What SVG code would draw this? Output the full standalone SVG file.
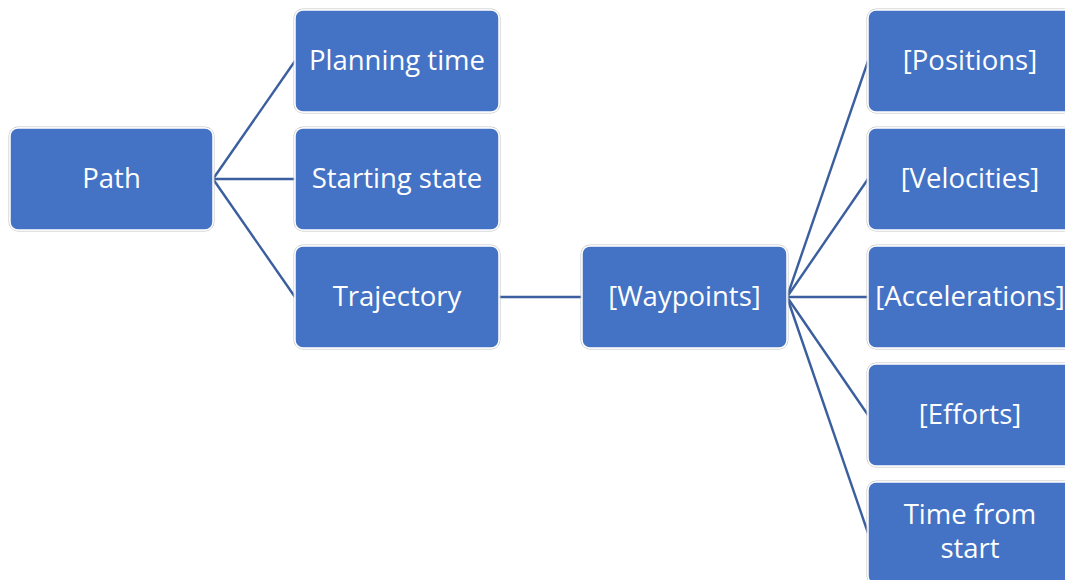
<svg xmlns="http://www.w3.org/2000/svg" width="1065" height="580" viewBox="0 0 1065 580">
<style>
.box{fill:#4472C4;stroke:#ffffff;stroke-width:1.5}
.edge{fill:none;stroke:#c4c4c4;stroke-width:1}
.t{font-family:"Open Sans","Noto Sans",sans-serif;font-size:27.5px;fill:#ffffff;text-anchor:middle;dominant-baseline:central}
.c{stroke:#3A5E9E;stroke-width:2.4;fill:none}
</style>
<rect width="1065" height="580" fill="#ffffff"/>
<g id="connectors">
<line class="c" x1="213" y1="179" x2="295" y2="61"/>
<line class="c" x1="213" y1="179" x2="295" y2="179"/>
<line class="c" x1="213" y1="179" x2="295" y2="297"/>
<line class="c" x1="499" y1="297" x2="582" y2="297"/>
<line class="c" x1="787" y1="297" x2="868" y2="61"/>
<line class="c" x1="787" y1="297" x2="868" y2="179"/>
<line class="c" x1="787" y1="297" x2="868" y2="297"/>
<line class="c" x1="787" y1="297" x2="868" y2="415"/>
<line class="c" x1="787" y1="297" x2="868" y2="533"/>
</g>
<g id="path"><rect class="edge" x="9" y="127" width="205" height="104" rx="9"/><rect class="box" x="10" y="128" width="203" height="102" rx="8"/><text class="t" x="111.5" y="177">Path</text></g>
<g id="planning-time"><rect class="edge" x="294" y="9" width="206" height="104" rx="9"/><rect class="box" x="295" y="10" width="204" height="102" rx="8"/><text class="t" x="397" y="59">Planning time</text></g>
<g id="starting-state"><rect class="edge" x="294" y="127" width="206" height="104" rx="9"/><rect class="box" x="295" y="128" width="204" height="102" rx="8"/><text class="t" x="397" y="177">Starting state</text></g>
<g id="trajectory"><rect class="edge" x="294" y="245" width="206" height="104" rx="9"/><rect class="box" x="295" y="246" width="204" height="102" rx="8"/><text class="t" x="397" y="295">Trajectory</text></g>
<g id="waypoints"><rect class="edge" x="581" y="245" width="207" height="104" rx="9"/><rect class="box" x="582" y="246" width="205" height="102" rx="8"/><text class="t" x="684.5" y="295">[Waypoints]</text></g>
<g id="positions"><rect class="edge" x="867" y="9" width="206" height="104" rx="9"/><rect class="box" x="868" y="10" width="204" height="102" rx="8"/><text class="t" x="970" y="59">[Positions]</text></g>
<g id="velocities"><rect class="edge" x="867" y="127" width="206" height="104" rx="9"/><rect class="box" x="868" y="128" width="204" height="102" rx="8"/><text class="t" x="970" y="177">[Velocities]</text></g>
<g id="accelerations"><rect class="edge" x="867" y="245" width="206" height="104" rx="9"/><rect class="box" x="868" y="246" width="204" height="102" rx="8"/><text class="t" x="970" y="295">[Accelerations]</text></g>
<g id="efforts"><rect class="edge" x="867" y="363" width="206" height="104" rx="9"/><rect class="box" x="868" y="364" width="204" height="102" rx="8"/><text class="t" x="970" y="413">[Efforts]</text></g>
<g id="time-from-start"><rect class="edge" x="867" y="481" width="206" height="104" rx="9"/><rect class="box" x="868" y="482" width="204" height="102" rx="8"/><text class="t" x="970" y="513">Time from</text><text class="t" x="970" y="547">start</text></g>
</svg>
